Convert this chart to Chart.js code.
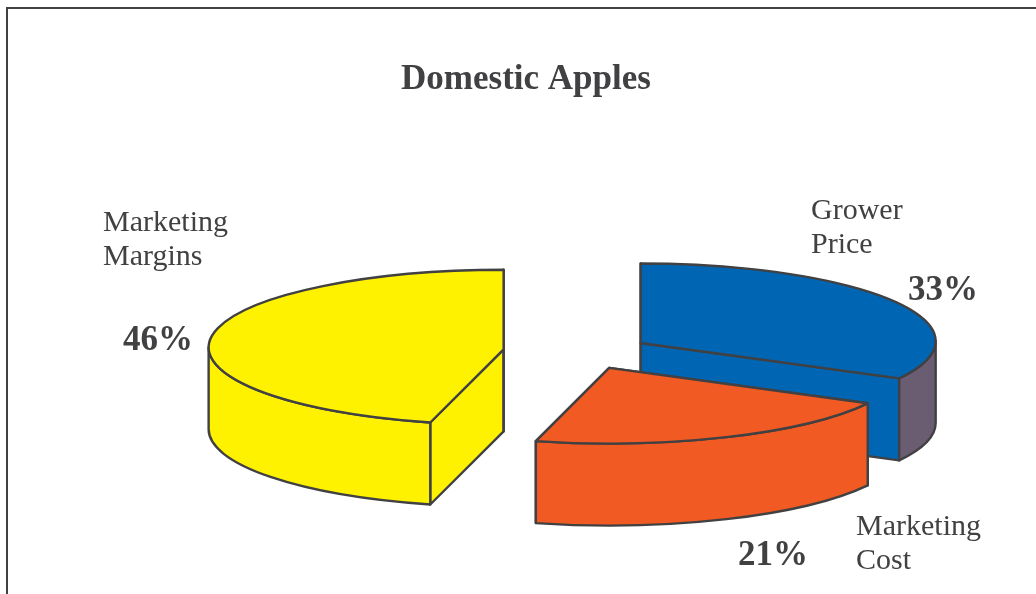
<!DOCTYPE html>
<html>
<head>
<meta charset="utf-8">
<title>Domestic Apples</title>
<script src="https://cdn.jsdelivr.net/npm/chart.js@4/dist/chart.umd.min.js"></script>
<style>
html, body { margin: 0; height: 100%; overflow: hidden; background: #fff; }
#frame { position: absolute; left: 6px; top: 7px; width: 1036px; height: 594px;
         border-left: 2px solid #414042; border-top: 2px solid #414042; }
</style>
</head>
<body>
<div id="frame"><canvas id="chart" width="1036" height="594"></canvas></div>
<script>
const categories = ['Grower Price', 'Marketing Cost', 'Marketing Margins'];
const shares = [33, 21, 46];
const shareLabels = ['33%', '21%', '46%'];
const categoryLines = [['Grower', 'Price'], ['Marketing', 'Cost'], ['Marketing', 'Margins']];

const TILT = 0.263;      // flattening of the pie
const DEPTH = 82;        // height of the extruded wall
const RIM_LIFT = 2;      // rim sits a little above the slice tip
const SHIFT_X = 57;      // pie centre relative to the chart area centre
const PIE_Y = 343;
const LINE = '#414042';
const TEXT = '#414042';

// canvas positions of the text blocks, same order as categories
const labelAt = [[803, 210], [848, 526], [95, 222]];
const percentAt = [[935, 291], [765, 556], [150, 341]];

function rimPoint(cx, cy, r, a) {
    return [cx + Math.cos(a) * r, cy - RIM_LIFT + Math.sin(a) * r * TILT];
}

function drawSlice(ctx, el, wall) {
    const r = el.outerRadius;
    const a0 = el.startAngle, a1 = el.endAngle;
    const mid = (a0 + a1) / 2;
    const off = el.options.offset;
    const cx = el.x + SHIFT_X + Math.cos(mid) * off;
    const cy = PIE_Y + Math.sin(mid) * off * TILT;
    const top = el.options.backgroundColor;

    ctx.lineWidth = 2.4;
    ctx.lineJoin = 'round';
    ctx.strokeStyle = LINE;

    // cut faces
    [a0, a1].forEach(a => {
        const [x, y] = rimPoint(cx, cy, r, a);
        ctx.beginPath();
        ctx.moveTo(cx, cy);
        ctx.lineTo(x, y);
        ctx.lineTo(x, y + DEPTH);
        ctx.lineTo(cx, cy + DEPTH);
        ctx.closePath();
        ctx.fillStyle = top;
        ctx.fill();
        ctx.stroke();
    });

    // outer wall, only the front half of the rim shows
    const w0 = Math.max(a0, 0), w1 = Math.min(a1, Math.PI);
    if (w1 > w0) {
        ctx.beginPath();
        ctx.ellipse(cx, cy - RIM_LIFT, r, r * TILT, 0, w0, w1);
        ctx.ellipse(cx, cy - RIM_LIFT + DEPTH, r, r * TILT, 0, w1, w0, true);
        ctx.closePath();
        ctx.fillStyle = wall;
        ctx.fill();
        ctx.stroke();
    }

    // top face
    ctx.beginPath();
    ctx.moveTo(cx, cy);
    ctx.ellipse(cx, cy - RIM_LIFT, r, r * TILT, 0, a0, a1);
    ctx.closePath();
    ctx.fillStyle = top;
    ctx.fill();
    ctx.stroke();
}

const pie3d = {
    id: 'pie3d',
    beforeDatasetDraw(chart, args) {
        const ctx = chart.ctx;
        const arcs = args.meta.data;
        const walls = chart.data.datasets[0].wallColor;
        ctx.save();
        // back to front
        [2, 0, 1].forEach(i => drawSlice(ctx, arcs[i], walls[i]));

        ctx.fillStyle = TEXT;
        ctx.textBaseline = 'alphabetic';
        categoryLines.forEach((lines, i) => {
            ctx.font = '30px "Liberation Serif"';
            ctx.textAlign = 'left';
            lines.forEach((t, j) => ctx.fillText(t, labelAt[i][0], labelAt[i][1] + j * 34));
            ctx.font = 'bold 35px "Liberation Serif"';
            ctx.textAlign = 'center';
            ctx.fillText(shareLabels[i], percentAt[i][0], percentAt[i][1]);
        });
        ctx.restore();
        return false;
    }
};

new Chart(document.getElementById('chart'), {
    type: 'pie',
    data: {
        labels: categories,
        datasets: [{
            data: shares,
            backgroundColor: ['#0066b3', '#f15a22', '#fff200'],
            wallColor: ['#6a5d72', '#f15a22', '#fff200'],
            borderColor: LINE,
            offset: [67, 66, 80],
        }],
    },
    options: {
        responsive: false,
        animation: false,
        radius: 295,
        plugins: {
            legend: { display: false },
            tooltip: { enabled: false },
            title: {
                display: true,
                text: 'Domestic Apples',
                color: TEXT,
                font: { family: '"Liberation Serif"', size: 35, weight: 'bold' },
                padding: { top: 50, bottom: 20 },
            },
        },
    },
    plugins: [pie3d],
});
</script>
</body>
</html>
